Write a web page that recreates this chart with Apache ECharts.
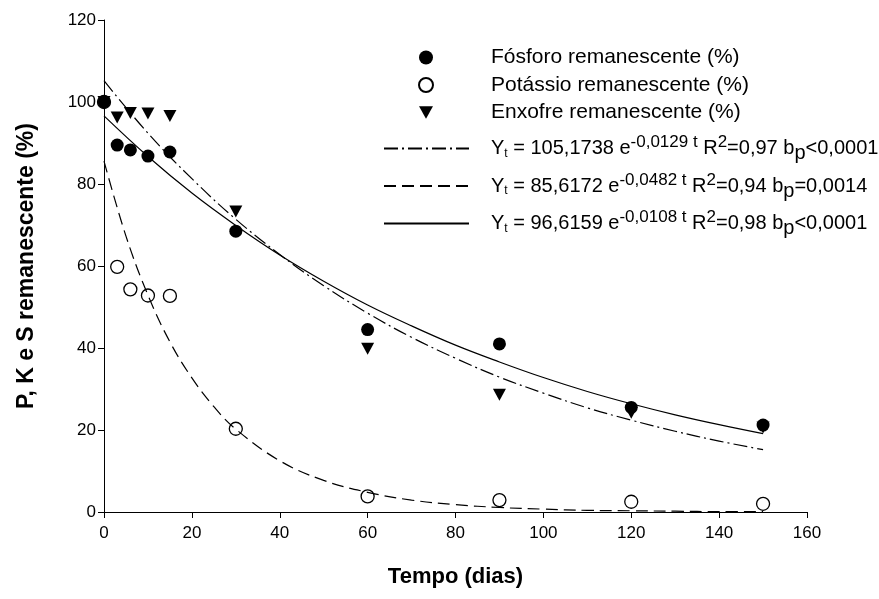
<!DOCTYPE html>
<html>
<head>
<meta charset="utf-8">
<script src="https://cdn.jsdelivr.net/npm/echarts@6/dist/echarts.min.js"></script>
<style>
html,body{margin:0;padding:0;background:#fff;}
#chart{width:879px;height:599px;}
</style>
</head>
<body>
<div id="chart"></div>
<script>
// ---- data ----
var days = [0, 3, 6, 10, 15, 30, 60, 90, 120, 150];
var fosforo = [100, 89.5, 88.3, 86.8, 87.8, 68.5, 44.5, 41.0, 25.5, 21.2];
var potassio = [100, 59.8, 54.3, 52.8, 52.7, 20.3, 3.8, 2.9, 2.5, 2.0];
var enxofre = [100, 96.2, 97.3, 97.2, 96.6, 73.3, 39.8, 28.6, 24.2, 20.6];

// fitted curves, values
var fitT = [0, 10, 20, 30, 40, 50, 60, 70, 80, 90, 100, 110, 120, 130, 140, 150];
var fitDashDot = [105.2, 92.4, 81.3, 71.4, 62.8, 55.2, 48.5, 42.6, 37.5, 32.9, 29.0, 25.4, 22.4, 19.7, 17.3, 15.2];
var fitSolid = [96.6, 86.7, 77.8, 69.9, 62.7, 56.3, 50.5, 45.4, 40.7, 36.6, 32.8, 29.4, 26.4, 23.7, 21.3, 19.1];
var fitKT = [0, 5, 10, 15, 20, 25, 30, 40, 50, 60, 70, 80, 90, 100, 110, 120, 130, 140, 150];
var fitDashed = [85.6, 67.3, 52.9, 41.5, 32.7, 25.7, 20.2, 12.5, 7.7, 4.8, 2.9, 1.8, 1.1, 0.7, 0.4, 0.3, 0.2, 0.1, 0.1];

var xTicks = [0, 20, 40, 60, 80, 100, 120, 140, 160];
var yTicks = [0, 20, 40, 60, 80, 100, 120];

var nameP = 'Fósforo remanescente (%)';
var nameK = 'Potássio remanescente (%)';
var nameS = 'Enxofre remanescente (%)';
var eq1 = 'eq1', eq2 = 'eq2', eq3 = 'eq3';
var eqText = {
  eq1: 'Y{sub|t} = 105,1738 e{sup|-0,0129 t} R{sup|2}=0,97 b{low|p}<0,0001',
  eq2: 'Y{sub|t} = 85,6172 e{sup|-0,0482 t} R{sup|2}=0,94 b{low|p}=0,0014',
  eq3: 'Y{sub|t} = 96,6159 e{sup|-0,0108 t} R{sup|2}=0,98 b{low|p}<0,0001'
};

function pairs(xs, ys) { return xs.map(function (x, i) { return [x, ys[i]]; }); }

var FONT = 'Liberation Sans, Arial, sans-serif';
var tri = 'path://M0,0 L10,0 L5,9 Z';
var LF = 20;

var chart = echarts.init(document.getElementById('chart'), null, {renderer: 'canvas'});
chart.setOption({
  animation: false,
  backgroundColor: '#fff',
  textStyle: {fontFamily: FONT, color: '#000'},
  grid: {left: 104, right: 72, top: 20, bottom: 87, containLabel: false},
  xAxis: {
    type: 'value', min: 0, max: 160, interval: 20,
    name: 'Tempo (dias)', nameLocation: 'middle', nameGap: 54,
    nameTextStyle: {fontFamily: FONT, fontSize: 22, fontWeight: 'bold', color: '#000'},
    axisLine: {show: true, lineStyle: {color: '#000', width: 1}},
    axisTick: {show: true, inside: false, length: 6, lineStyle: {color: '#000'}},
    axisLabel: {fontFamily: FONT, fontSize: 17, color: '#000', margin: 13,
      formatter: function (v) { return xTicks.indexOf(v) >= 0 ? String(v) : ''; }},
    splitLine: {show: false}
  },
  yAxis: {
    type: 'value', min: 0, max: 120, interval: 20,
    name: 'P, K e S remanescente (%)', nameLocation: 'middle', nameGap: 66, nameRotate: 90,
    nameTextStyle: {fontFamily: FONT, fontSize: 23, fontWeight: 'bold', color: '#000'},
    axisLine: {show: true, lineStyle: {color: '#000', width: 1}},
    axisTick: {show: true, inside: false, length: 6, lineStyle: {color: '#000'}},
    axisLabel: {fontFamily: FONT, fontSize: 17, color: '#000', margin: 8,
      formatter: function (v) { return yTicks.indexOf(v) >= 0 ? String(v) : ''; }},
    splitLine: {show: false}
  },
  legend: [
    {
      orient: 'vertical', left: 418, top: 47, padding: 0,
      itemWidth: 14, itemHeight: 14, itemGap: 6.5,
      data: [nameP, nameK, nameS],
      selectedMode: false,
      textStyle: {fontFamily: FONT, fontSize: 21, color: '#000', lineHeight: 21, padding: [0, 0, 0, 53]}
    },
    {
      orient: 'vertical', left: 383, top: 134, padding: 0,
      itemWidth: 85, itemHeight: 14, itemGap: 8,
      data: [eq1, eq2, eq3],
      selectedMode: false,
      itemStyle: {color: 'rgba(0,0,0,0)', borderWidth: 0, opacity: 0},
      formatter: function (n) { return eqText[n]; },
      textStyle: {
        fontFamily: FONT, fontSize: LF, color: '#000', padding: [0, 0, 0, 17],
        rich: {
          sub: {fontFamily: FONT, fontSize: 12, color: '#000', padding: [10, 0, 0, 0]},
          sup: {fontFamily: FONT, fontSize: 17, color: '#000', padding: [0, 0, 12, 0]},
          low: {fontFamily: FONT, fontSize: LF, color: '#000', padding: [10, 0, 0, 0]}
        }
      }
    }
  ],
  series: [
    {
      name: eq1, type: 'line', data: pairs(fitT, fitDashDot), smooth: 0.4,
      symbol: 'none', z: 2,
      lineStyle: {color: '#000', width: 1.2, type: [14, 4, 2, 4]},
      itemStyle: {color: '#000'}
    },
    {
      name: eq2, type: 'line', data: pairs(fitKT, fitDashed), smooth: 0.4,
      symbol: 'none', z: 2,
      lineStyle: {color: '#000', width: 1.2, type: [12, 6]},
      itemStyle: {color: '#000'}
    },
    {
      name: eq3, type: 'line', data: pairs(fitT, fitSolid), smooth: 0.4,
      symbol: 'none', z: 2,
      lineStyle: {color: '#000', width: 1.2, type: 'solid'},
      itemStyle: {color: '#000'}
    },
    {
      name: nameS, type: 'scatter', data: pairs(days, enxofre), z: 3,
      symbol: tri, symbolSize: [13, 12],
      itemStyle: {color: '#000', opacity: 1}
    },
    {
      name: nameK, type: 'scatter', data: pairs(days, potassio), z: 4,
      symbol: 'circle', symbolSize: 13,
      itemStyle: {color: 'rgba(255,255,255,0)', borderColor: '#000', borderWidth: 1.3, opacity: 1}
    },
    {
      name: nameP, type: 'scatter', data: pairs(days, fosforo), z: 5,
      symbol: 'circle', symbolSize: 13,
      itemStyle: {color: '#000', opacity: 1}
    }
  ]
});
</script>
</body>
</html>
